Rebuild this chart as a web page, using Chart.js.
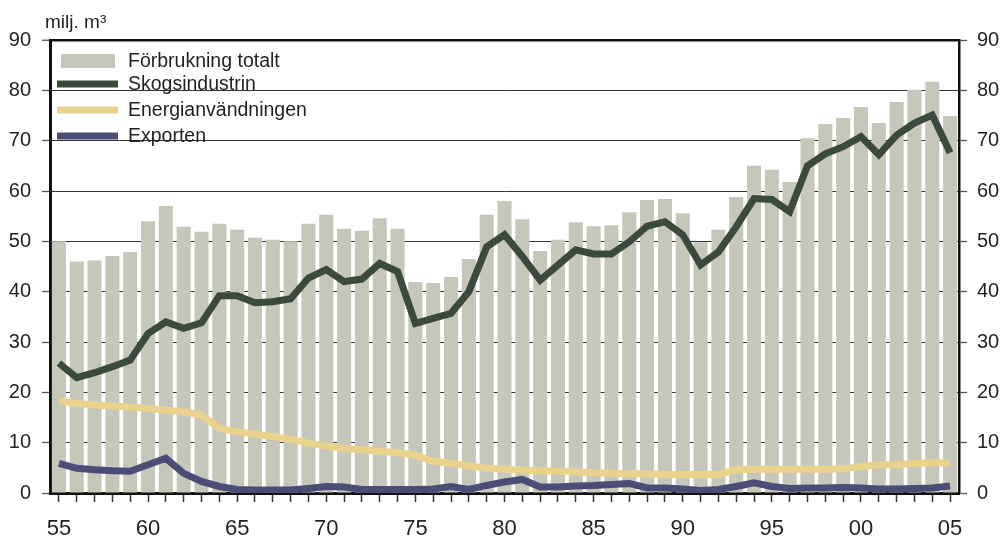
<!DOCTYPE html>
<html><head><meta charset="utf-8">
<script src="https://cdn.jsdelivr.net/npm/chart.js@4.4.1/dist/chart.umd.min.js"></script>
<style>html,body{margin:0;padding:0;background:#fff;}#wrap{width:1001px;height:540px;position:relative;}</style>
</head><body><div id="wrap"><canvas id="c" width="1001" height="540"></canvas></div>
<script>
// ---- data ----
const years = ['1955','1956','1957','1958','1959','1960','1961','1962','1963','1964','1965','1966','1967','1968','1969','1970','1971','1972','1973','1974','1975','1976','1977','1978','1979','1980','1981','1982','1983','1984','1985','1986','1987','1988','1989','1990','1991','1992','1993','1994','1995','1996','1997','1998','1999','2000','2001','2002','2003','2004','2005'];
const tickLabels = ['55','60','65','70','75','80','85','90','95','00','05'];
const seriesNames = ['Förbrukning totalt','Skogsindustrin','Energianvändningen','Exporten'];
const unitLabel = 'milj. m³';
const forbrukningTotalt = [50.0,46.0,46.2,47.1,47.9,54.0,57.0,52.9,51.9,53.5,52.3,50.7,50.3,50.0,53.5,55.3,52.5,52.1,54.6,52.5,41.9,41.7,42.9,46.5,55.3,58.0,54.4,48.1,50.3,53.8,53.0,53.2,55.8,58.2,58.4,55.6,49.8,52.3,58.8,65.0,64.2,61.8,70.5,73.3,74.5,76.7,73.5,77.7,80.1,81.7,74.9];
const skogsindustrin = [25.8,22.9,23.9,25.1,26.4,31.7,34.0,32.7,33.8,39.2,39.2,37.8,38.0,38.6,42.7,44.4,42.0,42.5,45.6,44.0,33.7,34.7,35.7,40.0,48.9,51.3,47.0,42.3,45.3,48.3,47.5,47.5,49.9,53.0,53.9,51.3,45.3,47.9,52.9,58.5,58.3,55.9,65.0,67.4,68.8,70.8,67.2,71.1,73.5,75.1,67.6];
const energianvandningen = [18.3,17.8,17.5,17.3,17.1,16.8,16.5,16.1,15.5,12.8,12.2,11.7,11.2,10.7,9.9,9.3,8.9,8.6,8.3,8.0,7.5,6.3,5.9,5.4,4.9,4.7,4.5,4.4,4.3,4.2,4.0,3.9,3.8,3.8,3.7,3.7,3.7,3.7,4.6,4.7,4.7,4.7,4.7,4.7,4.8,5.2,5.6,5.6,5.9,6.0,6.0];
const exporten = [5.9,4.9,4.6,4.4,4.3,5.6,6.9,3.9,2.3,1.3,0.7,0.6,0.6,0.6,0.9,1.3,1.2,0.7,0.7,0.7,0.7,0.8,1.3,0.7,1.5,2.2,2.7,1.2,1.2,1.4,1.5,1.7,1.9,1.0,1.0,0.8,0.5,0.7,1.3,2.0,1.3,0.9,1.0,1.0,1.1,1.0,0.8,0.8,0.9,1.0,1.4];
const yMin = 0, yMax = 90, yStep = 10;

// ---- styles ----
const C_BAR = '#c4c7b9', C_SKOG = '#3b4a3c', C_ENERGI = '#e9d38c', C_EXPORT = '#4b4d76';
const TXT = '#231f20';
const SANS = "'Liberation Sans',Arial,sans-serif";

const legendPlugin = {
  id: 'customLegend',
  beforeDatasetsDraw(chart) {
    const ctx = chart.ctx;
    ctx.save();
    const rows = [
      {type:'box', color:C_BAR, y:61},
      {type:'line', color:C_SKOG, y:84},
      {type:'line', color:C_ENERGI, y:110},
      {type:'line', color:C_EXPORT, y:136}
    ];
    rows.forEach((r, i) => {
      ctx.fillStyle = r.color;
      if (r.type === 'box') ctx.fillRect(61, r.y - 7, 54, 14);
      else ctx.fillRect(57, r.y - 3.5, 61, 7);
      ctx.fillStyle = TXT;
      ctx.font = '19.5px ' + SANS;
      ctx.textBaseline = 'middle';
      ctx.textAlign = 'left';
      ctx.fillText(seriesNames[i], 128, r.y + 1);
    });
    ctx.restore();
  },
  afterDraw(chart) {
    const ctx = chart.ctx;
    ctx.save();
    ctx.fillStyle = TXT;
    ctx.font = '19px ' + SANS;
    ctx.textBaseline = 'alphabetic';
    ctx.textAlign = 'left';
    ctx.fillText(unitLabel, 45, 28);
    ctx.restore();
  }
};

new Chart(document.getElementById('c'), {
  data: {
    labels: years,
    datasets: [
      {type:'line', label:seriesNames[1], data:skogsindustrin, borderColor:C_SKOG, borderWidth:7, pointRadius:0, tension:0, borderJoinStyle:'miter', borderCapStyle:'butt', order:1, yAxisID:'y'},
      {type:'line', label:seriesNames[3], data:exporten, borderColor:C_EXPORT, borderWidth:7, pointRadius:0, tension:0, borderJoinStyle:'miter', borderCapStyle:'butt', order:2, yAxisID:'y'},
      {type:'line', label:seriesNames[2], data:energianvandningen, borderColor:C_ENERGI, borderWidth:7, pointRadius:0, tension:0, borderJoinStyle:'miter', borderCapStyle:'butt', order:3, yAxisID:'y'},
      {type:'bar', label:seriesNames[0], data:forbrukningTotalt, backgroundColor:C_BAR, barPercentage:0.79, categoryPercentage:1.0, order:10, yAxisID:'y'}
    ]
  },
  options: {
    responsive:false, animation:false, devicePixelRatio:1,
    layout:{padding:{top:40,left:0,right:0,bottom:0}},
    plugins:{legend:{display:false}, tooltip:{enabled:false}},
    scales: {
      x: {
        offset:true,
        grid:{display:true, drawOnChartArea:false, offset:false, tickLength:9, color:'#333', tickColor:'#333', tickWidth:1.5},
        border:{display:true, color:'#111', width:3},
        ticks:{autoSkip:false, maxRotation:0, minRotation:0, padding:14, color:TXT,
          font:{family:SANS, size:22},
          callback:(v,i)=> (i % 5 === 0 ? tickLabels[i/5] : '')},
        afterFit:(s)=>{ s.height = 47; }
      },
      y: {
        position:'left', min:yMin, max:yMax,
        ticks:{stepSize:yStep, padding:11, color:TXT, font:{family:SANS, size:20}},
        grid:{color:(c)=> (c.tick && c.tick.value===yMax ? '#111' : '#333'), lineWidth:(c)=> (c.tick && c.tick.value===yMax ? 2.5 : 1), tickLength:8, tickColor:'#555', tickWidth:1.3},
        border:{display:true, color:'#111', width:3},
        afterFit:(s)=>{ s.width = 50; }
      },
      y2: {
        position:'right', min:yMin, max:yMax,
        ticks:{stepSize:yStep, padding:10, color:TXT, font:{family:SANS, size:20}},
        grid:{drawOnChartArea:false, tickLength:8, color:'#555', tickWidth:1.3},
        border:{display:true, color:'#111', width:2.5},
        afterFit:(s)=>{ s.width = 42; }
      }
    }
  },
  plugins:[legendPlugin]
});
</script>
</body></html>
